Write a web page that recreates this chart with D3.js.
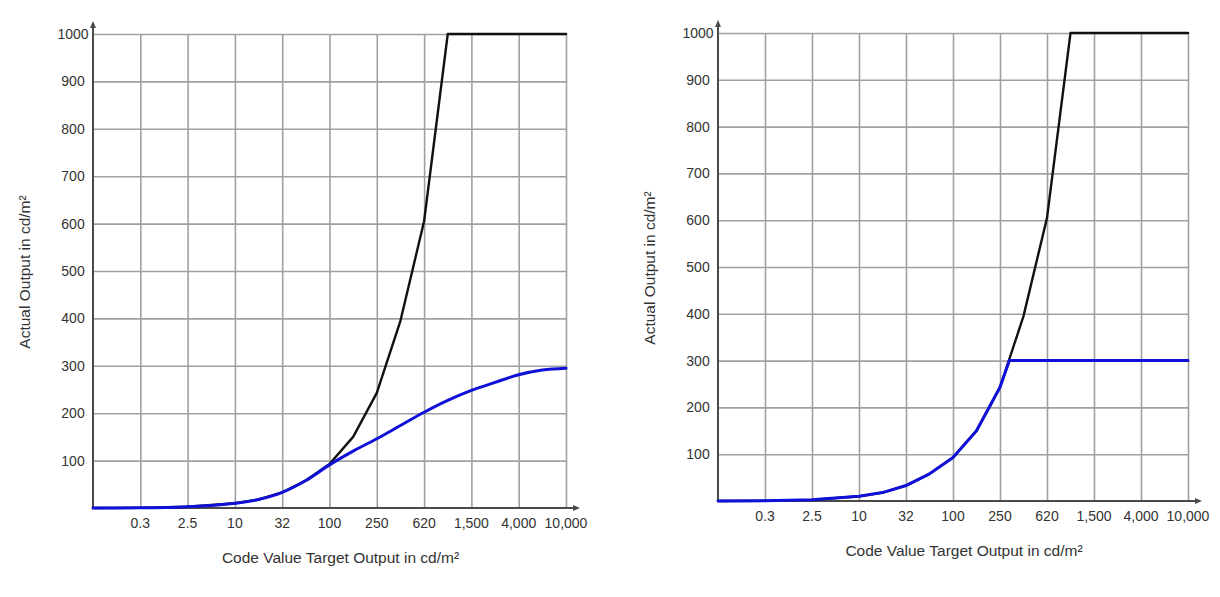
<!DOCTYPE html>
<html>
<head>
<meta charset="utf-8">
<script src="https://cdn.jsdelivr.net/npm/d3@7"></script>
<style>
	body { margin: 0; background: #fff; }
	svg { display: block; font-family: 'Liberation Sans', Arial, sans-serif; }
	.grid line { stroke: #a0a0a0; stroke-width: 1.6; }
	.grid path { display: none; }
	.tick-label { fill: #333; font-size: 14px; }
	.axis-title { fill: #333; font-size: 15.5px; }
	.axis-line { stroke: #4a4a4a; stroke-width: 2; fill: none; }
	.line { fill: none; stroke-linejoin: round; stroke-linecap: round; }
</style>
</head>
<body>
<script>
// code value steps on the x axis (0 = origin) and the luminance printed at each
var xLabels = [ '0.3', '2.5', '10', '32', '100', '250', '620', '1,500', '4,000', '10,000' ];
var yTicks = [ 100, 200, 300, 400, 500, 600, 700, 800, 900, 1000 ];

// black: target output, capped at 1000
var pqSteps = [ 0, 1, 2, 3, 3.5, 4, 4.5, 5, 5.5, 6, 6.5, 7, 7.5, 10 ];
var pqOutput = [ 0, 0.3, 2.5, 10, 18, 33, 58, 93, 150, 243, 395, 605, 1000, 1000 ];

// blue, left: roll-off towards 300
var rolloffSteps = [ 0, 1, 2, 3, 3.5, 4, 4.5, 5, 5.5, 6, 6.5, 7, 7.5, 8, 8.5, 9, 9.5, 10 ];
var rolloffOutput = [ 0, 0.3, 2.5, 10, 18, 33, 58, 91, 120, 146, 174, 202, 227, 248, 265, 281, 291, 295 ];

// blue, right: hard clip at 300
var clipSteps = [ 0, 1, 2, 3, 3.5, 4, 4.5, 5, 5.5, 6, 6.2, 10 ];
var clipOutput = [ 0, 0.3, 2.5, 10, 18, 33, 58, 93, 150, 243, 300, 300 ];

var toPoints = function ( xs, ys ) {
	return xs.map( function ( x, i ) { return { x: x, y: ys[i] }; } );
};

var svg = d3.select( 'body' ).append( 'svg' )
	.attr( 'width', 1220 )
	.attr( 'height', 597 );

var panels = [
	{ left: 93, right: 566, top: 34, bottom: 508,
		series: [
			{ data: toPoints( pqSteps, pqOutput ), color: '#111', width: 2.4, curve: d3.curveLinear },
			{ data: toPoints( rolloffSteps, rolloffOutput ), color: '#1010d8', width: 3, curve: d3.curveMonotoneX }
		] },
	{ left: 718, right: 1188, top: 33, bottom: 501,
		series: [
			{ data: toPoints( pqSteps, pqOutput ), color: '#111', width: 2.4, curve: d3.curveLinear },
			{ data: toPoints( clipSteps, clipOutput ), color: '#1010d8', width: 3, curve: d3.curveLinear }
		] }
];

panels.forEach( function ( p ) {
	var x = d3.scaleLinear().domain( [ 0, 10 ] ).range( [ p.left, p.right ] );
	var y = d3.scaleLinear().domain( [ 0, 1000 ] ).range( [ p.bottom, p.top ] );
	var g = svg.append( 'g' );
	var cw = p.right - p.left;
	var ch = p.bottom - p.top;

	// grid
	g.append( 'g' ).classed( 'grid', true )
		.attr( 'transform', 'translate(0,' + p.bottom + ')' )
		.call( d3.axisBottom( x ).tickValues( d3.range( 1, 11 ) ).tickSize( -ch ).tickFormat( '' ) );
	g.append( 'g' ).classed( 'grid', true )
		.attr( 'transform', 'translate(' + p.left + ',0)' )
		.call( d3.axisLeft( y ).tickValues( yTicks ).tickSize( -cw ).tickFormat( '' ) );

	// tick labels
	g.selectAll( '.xl' ).data( xLabels ).enter().append( 'text' )
		.classed( 'tick-label', true )
		.attr( 'x', function ( d, i ) { return x( i + 1 ); } )
		.attr( 'y', p.bottom + 15 )
		.attr( 'dy', '0.35em' )
		.attr( 'text-anchor', 'middle' )
		.text( function ( d ) { return d; } );
	g.selectAll( '.yl' ).data( yTicks ).enter().append( 'text' )
		.classed( 'tick-label', true )
		.attr( 'x', p.left - 20 )
		.attr( 'y', function ( d ) { return y( d ); } )
		.attr( 'dy', '0.35em' )
		.attr( 'text-anchor', 'middle' )
		.text( function ( d ) { return d; } );

	// axes with arrows
	g.append( 'path' ).classed( 'axis-line', true )
		.attr( 'd', 'M' + p.left + ',' + p.bottom + 'H' + ( p.right + 12 ) );
	g.append( 'path' ).attr( 'fill', '#4a4a4a' )
		.attr( 'd', 'M' + ( p.right + 14 ) + ',' + p.bottom + 'l-7,-3v6z' );
	g.append( 'path' ).classed( 'axis-line', true )
		.attr( 'd', 'M' + p.left + ',' + p.bottom + 'V' + ( p.top - 11 ) );
	g.append( 'path' ).attr( 'fill', '#4a4a4a' )
		.attr( 'd', 'M' + p.left + ',' + ( p.top - 13 ) + 'l-3,7h6z' );

	// lines
	p.series.forEach( function ( s ) {
		var line = d3.line()
			.x( function ( d ) { return x( d.x ); } )
			.y( function ( d ) { return y( d.y ); } )
			.curve( s.curve );
		g.append( 'path' ).classed( 'line', true )
			.datum( s.data )
			.attr( 'd', line )
			.style( 'stroke', s.color )
			.style( 'stroke-width', s.width );
	} );

	// titles
	g.append( 'text' ).classed( 'axis-title', true )
		.attr( 'x', ( p.left + p.right ) / 2 + 11 )
		.attr( 'y', p.bottom + 50 )
		.attr( 'dy', '0.35em' )
		.attr( 'text-anchor', 'middle' )
		.text( 'Code Value Target Output in cd/m²' );
	g.append( 'text' ).classed( 'axis-title', true )
		.attr( 'transform', 'translate(' + ( p.left - 68 ) + ',' + ( ( p.top + p.bottom ) / 2 + 1 ) + ') rotate(-90)' )
		.attr( 'dy', '0.35em' )
		.attr( 'text-anchor', 'middle' )
		.text( 'Actual Output in cd/m²' );
} );
</script>
</body>
</html>
